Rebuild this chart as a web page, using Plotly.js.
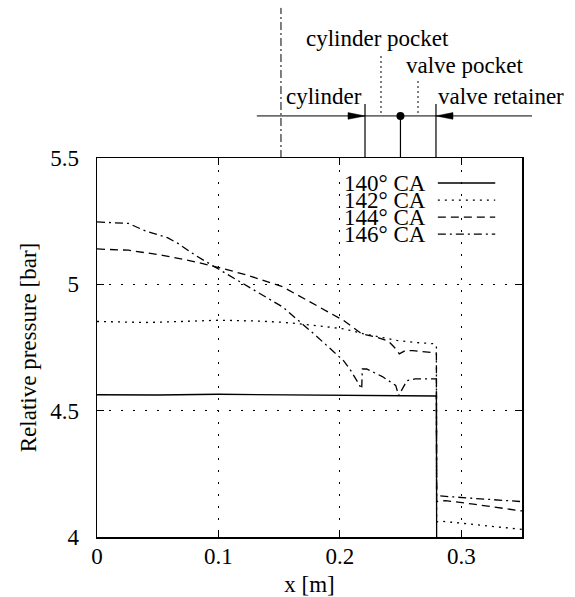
<!DOCTYPE html>
<html>
<head>
<meta charset="utf-8">
<script src="https://cdn.plot.ly/plotly-3.0.1.min.js"></script>
<style>html,body{margin:0;padding:0;background:#fff;}#chart{width:575px;height:597px;}</style>
</head>
<body>
<div id="chart"></div>
<script>
// ---- data ----
const seriesNames = ["140° CA", "142° CA", "144° CA", "146° CA"];

const x140 = [0, 0.05, 0.1, 0.15, 0.2, 0.25, 0.2795, 0.2797, 0.35];
const y140 = [4.563, 4.562, 4.565, 4.563, 4.561, 4.558, 4.558, 3.99, 3.99];

const x142 = [0, 0.02, 0.04, 0.07, 0.1, 0.13, 0.153, 0.17, 0.192, 0.203, 0.219, 0.235, 0.247, 0.262, 0.277, 0.2795, 0.2797, 0.283, 0.3, 0.32, 0.35];
const y142 = [4.853, 4.851, 4.849, 4.853, 4.858, 4.855, 4.85, 4.842, 4.83, 4.824, 4.805, 4.79, 4.778, 4.77, 4.765, 4.76, 4.06, 4.063, 4.055, 4.045, 4.03];

const x144 = [0, 0.026, 0.054, 0.081, 0.104, 0.124, 0.153, 0.18, 0.192, 0.203, 0.218, 0.231, 0.24, 0.246, 0.249, 0.254, 0.26, 0.2795, 0.2797, 0.287, 0.31, 0.33, 0.35];
const y144 = [5.14, 5.135, 5.115, 5.089, 5.062, 5.036, 4.99, 4.917, 4.884, 4.857, 4.804, 4.79, 4.775, 4.745, 4.725, 4.738, 4.738, 4.728, 4.14, 4.144, 4.13, 4.117, 4.103];

const x146 = [0, 0.026, 0.04, 0.058, 0.067, 0.081, 0.097, 0.104, 0.124, 0.153, 0.18, 0.192, 0.203, 0.209, 0.218, 0.2185, 0.222, 0.235, 0.246, 0.2484, 0.2553, 0.262, 0.2795, 0.2797, 0.281, 0.31, 0.33, 0.35];
const y146 = [5.247, 5.241, 5.211, 5.185, 5.161, 5.115, 5.069, 5.049, 4.99, 4.91, 4.798, 4.745, 4.698, 4.659, 4.586, 4.665, 4.665, 4.635, 4.60, 4.56, 4.619, 4.626, 4.626, 4.163, 4.163, 4.153, 4.147, 4.14];

const xTickVals = [0, 0.1, 0.2, 0.3];
const xTickText = ["0", "0.1", "0.2", "0.3"];
const yTickVals = [4, 4.5, 5, 5.5];
const yTickText = ["4", "4.5", "5", "5.5"];

// ---- styling ----
const FONT = "Liberation Serif";
const FS = 23;
const dashes = ["solid", "2px,5px", "8px,5px", "8px,4px,2px,4px"];
const xs = [x140, x142, x144, x146];
const ys = [y140, y142, y144, y146];

const traces = xs.map((xv, i) => ({
  x: xv, y: ys[i], type: "scatter", mode: "lines", name: seriesNames[i],
  line: {color: "black", width: 1.3, dash: dashes[i]}, showlegend: false
}));

// legend drawn manually (text left, sample line right, as in reference)
const legRows = [0.934, 0.889, 0.844, 0.799];
const annotations = [];
const shapes = [];
seriesNames.forEach((n, i) => {
  annotations.push({xref: "paper", yref: "paper", x: 0.778, y: legRows[i], xanchor: "right", yanchor: "middle",
    text: n, showarrow: false, font: {family: FONT, size: FS, color: "black"}});
  shapes.push({type: "line", xref: "paper", yref: "paper", x0: 0.802, x1: 0.937, y0: legRows[i], y1: legRows[i],
    line: {color: "black", width: 1.3, dash: dashes[i]}});
});

// schematic above the plot
const yh = 1.111;
shapes.push(
  {type: "line", xref: "paper", yref: "paper", x0: 0.4329, x1: 0.4329, y0: 1.0, y1: 1.396, line: {color: "black", width: 1, dash: "8px,3px,2px,3px"}},
  {type: "line", xref: "paper", yref: "paper", x0: 0.376, x1: 1.0235, y0: yh, y1: yh, line: {color: "black", width: 1}},
  {type: "line", xref: "paper", yref: "paper", x0: 0.6306, x1: 0.6306, y0: 1.0, y1: 1.1425, line: {color: "black", width: 1.2}},
  {type: "line", xref: "paper", yref: "paper", x0: 0.7976, x1: 0.7976, y0: 1.0, y1: 1.1425, line: {color: "black", width: 1.2}},
  {type: "line", xref: "paper", yref: "paper", x0: 0.714, x1: 0.714, y0: 1.0, y1: yh, line: {color: "black", width: 1.2}},
  {type: "circle", xref: "paper", yref: "paper", x0: 0.714 - 0.0094, x1: 0.714 + 0.0094, y0: yh - 0.0106, y1: yh + 0.0106,
    fillcolor: "black", line: {color: "black", width: 0}},
  {type: "path", xref: "paper", yref: "paper", path: "M 0.6306," + yh + " L 0.5906," + (yh + 0.0088) + " L 0.5906," + (yh - 0.0088) + " Z",
    fillcolor: "black", line: {color: "black", width: 0.5}},
  {type: "path", xref: "paper", yref: "paper", path: "M 0.7976," + yh + " L 0.8376," + (yh + 0.0088) + " L 0.8376," + (yh - 0.0088) + " Z",
    fillcolor: "black", line: {color: "black", width: 0.5}},
  {type: "line", xref: "paper", yref: "paper", x0: 0.6682, x1: 0.6682, y0: 1.1187, y1: 1.277, line: {color: "black", width: 1, dash: "2px,3px"}},
  {type: "line", xref: "paper", yref: "paper", x0: 0.7553, x1: 0.7553, y0: 1.1187, y1: 1.211, line: {color: "black", width: 1, dash: "2px,3px"}}
);
const tf = {family: FONT, size: FS, color: "black"};
annotations.push(
  {xref: "paper", yref: "paper", x: 0.487, y: 1.314, xanchor: "left", yanchor: "middle", text: "cylinder pocket", showarrow: false, font: tf},
  {xref: "paper", yref: "paper", x: 0.722, y: 1.243, xanchor: "left", yanchor: "middle", text: "valve pocket", showarrow: false, font: tf},
  {xref: "paper", yref: "paper", x: 0.628, y: 1.161, xanchor: "right", yanchor: "middle", text: "cylinder", showarrow: false, font: tf},
  {xref: "paper", yref: "paper", x: 0.798, y: 1.161, xanchor: "left", yanchor: "middle", text: "valve retainer", showarrow: false, font: tf}
);

const axisCommon = {
  showline: true, linecolor: "black", linewidth: 1.5, mirror: "ticks",
  ticks: "inside", ticklen: 7, tickcolor: "black", tickwidth: 1,
  showgrid: true, gridcolor: "black", gridwidth: 1, griddash: "2px,10px",
  zeroline: false, tickfont: {family: FONT, size: FS, color: "black"}
};

const layout = {
  width: 575, height: 597,
  margin: {l: 97, r: 53, t: 158, b: 60},
  paper_bgcolor: "white", plot_bgcolor: "white",
  showlegend: false,
  font: {family: FONT, size: FS, color: "black"},
  xaxis: Object.assign({}, axisCommon, {
    range: [0, 0.35], tickvals: xTickVals, ticktext: xTickText, ticklabelstandoff: -2,
    title: {text: "x [m]", font: {family: FONT, size: FS, color: "black"}, standoff: 14}
  }),
  yaxis: Object.assign({}, axisCommon, {
    range: [4, 5.5], tickvals: yTickVals, ticktext: yTickText, ticklabelstandoff: 12,
    title: {text: "Relative pressure [bar]", font: {family: FONT, size: FS, color: "black"}, standoff: 7}
  }),
  shapes: shapes,
  annotations: annotations
};

Plotly.newPlot("chart", traces, layout, {displayModeBar: false, staticPlot: true});
</script>
</body>
</html>
